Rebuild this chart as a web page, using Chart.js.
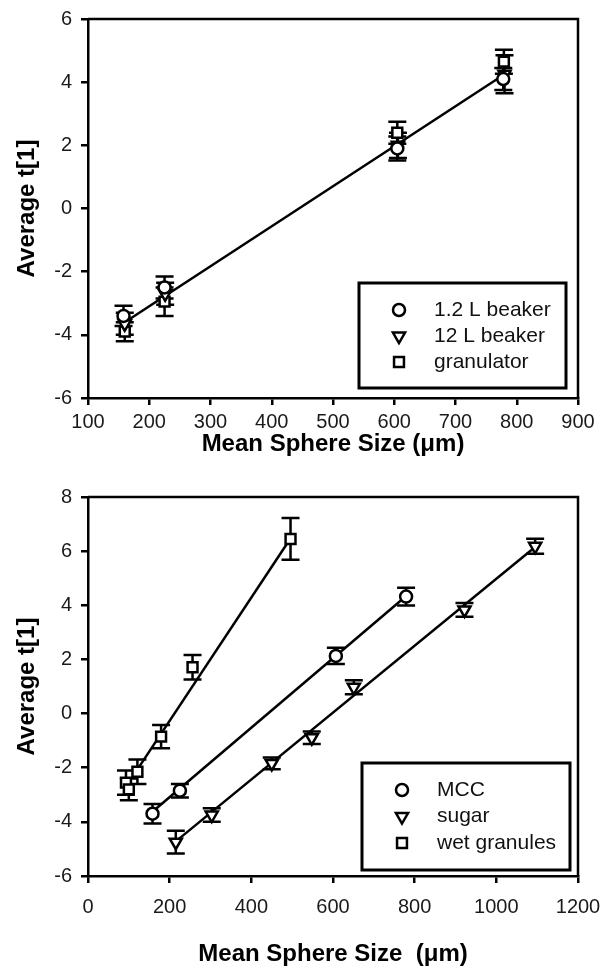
<!DOCTYPE html>
<html>
<head>
<meta charset="utf-8">
<script src="https://cdn.jsdelivr.net/npm/chart.js@4.4.1/dist/chart.umd.min.js"></script>
<style>
  html, body { margin: 0; padding: 0; background: #fff; }
  #wrap { position: relative; width: 602px; height: 967px; }
  canvas { position: absolute; left: 0; }
  #topChart { top: 0; }
  #bottomChart { top: 470px; }
</style>
</head>
<body>
<div id="wrap">
  <canvas id="topChart" width="602" height="470"></canvas>
  <canvas id="bottomChart" width="602" height="497"></canvas>
</div>
<script>
// top panel: three vessels
const topTicksX = [100, 200, 300, 400, 500, 600, 700, 800, 900];
const topTicksY = [-6, -4, -2, 0, 2, 4, 6];
const beakerSmallX = [158, 225, 605, 778];
const beakerSmallY = [-3.4, -2.5, 1.9, 4.1];
const beakerSmallErr = [0.32, 0.35, 0.38, 0.35];
const beakerLargeX = [160, 226, 606, 780];
const beakerLargeY = [-3.65, -2.7, 2.0, 4.25];
const beakerLargeErr = [0.35, 0.35, 0.4, 0.6];
const granulatorX = [160, 225, 605, 779];
const granulatorY = [-3.9, -2.95, 2.4, 4.65];
const granulatorErr = [0.3, 0.45, 0.35, 0.38];
const topFitX = [160, 780];
const topFitY = [-3.6, 4.25];

// bottom panel: three materials
const bottomTicksX = [0, 200, 400, 600, 800, 1000, 1200];
const bottomTicksY = [-6, -4, -2, 0, 2, 4, 6, 8];
const mccX = [158, 225, 607, 779];
const mccY = [-3.7, -2.85, 2.13, 4.32];
const mccErr = [0.36, 0.25, 0.3, 0.33];
const sugarX = [215, 303, 450, 548, 651, 922, 1095];
const sugarY = [-4.75, -3.75, -1.84, -0.89, 0.97, 3.83, 6.18];
const sugarErr = [0.42, 0.25, 0.22, 0.23, 0.26, 0.25, 0.28];
const wetX = [93, 100, 121, 179, 256, 496];
const wetY = [-2.55, -2.8, -2.15, -0.85, 1.71, 6.45];
const wetErr = [0.45, 0.4, 0.45, 0.43, 0.45, 0.77];
const mccFitX = [160, 780];
const mccFitY = [-3.6, 4.35];
const sugarFitX = [215, 1095];
const sugarFitY = [-4.72, 6.15];
const wetFitX = [115, 495];
const wetFitY = [-2.2, 6.45];

Chart.defaults.font.family = 'Arial, "Liberation Sans", Helvetica, sans-serif';
Chart.defaults.color = '#000';
Chart.defaults.animation = false;

const circle = { shape: 'circle', radius: 6, rotation: 0 };
const triangleDown = { shape: 'triangle', radius: 7, rotation: 180 };
const square = { shape: 'rect', radius: 7, rotation: 0 };

function pts(xs, ys) {
    return xs.map((x, i) => ({ x: x, y: ys[i] }));
}

function markerSet(label, xs, ys, errs, style) {
    return {
        label: label,
        data: pts(xs, ys),
        errorBars: errs,
        showLine: false,
        pointStyle: style.shape,
        rotation: style.rotation,
        pointRadius: style.radius,
        pointBorderWidth: 2.5,
        pointBorderColor: '#000',
        pointBackgroundColor: '#fff'
    };
}

function fitLine(xs, ys) {
    return {
        data: pts(xs, ys),
        showLine: true,
        borderColor: '#000',
        borderWidth: 2.5,
        pointRadius: 0,
        fill: false
    };
}

// error bars go under the markers
const errorBarPlugin = {
    id: 'errorBars',
    beforeDatasetsDraw(chart) {
        const ctx = chart.ctx;
        const xs = chart.scales.x, ys = chart.scales.y;
        ctx.save();
        ctx.strokeStyle = '#000';
        ctx.lineWidth = 2.5;
        chart.data.datasets.forEach(ds => {
            if (!ds.errorBars) return;
            ds.data.forEach((p, i) => {
                const e = ds.errorBars[i];
                const px = xs.getPixelForValue(p.x);
                const top = ys.getPixelForValue(p.y + e);
                const bot = ys.getPixelForValue(p.y - e);
                ctx.beginPath();
                ctx.moveTo(px, top); ctx.lineTo(px, bot);
                ctx.moveTo(px - 9, top); ctx.lineTo(px + 9, top);
                ctx.moveTo(px - 9, bot); ctx.lineTo(px + 9, bot);
                ctx.stroke();
            });
        });
        ctx.restore();
    }
};

const framePlugin = {
    id: 'frame',
    afterDatasetsDraw(chart) {
        const { ctx, chartArea: a } = chart;
        ctx.save();
        ctx.strokeStyle = '#000';
        ctx.lineWidth = 2.5;
        ctx.beginPath();
        ctx.moveTo(a.left, a.top);
        ctx.lineTo(a.right, a.top);
        ctx.lineTo(a.right, a.bottom);
        ctx.stroke();
        ctx.restore();
    }
};

function drawMarker(ctx, ds, x, y) {
    if (Chart.helpers && Chart.helpers.drawPoint) {
        Chart.helpers.drawPoint(ctx, {
            pointStyle: ds.pointStyle, rotation: ds.rotation, radius: ds.pointRadius, borderWidth: 2.5
        }, x, y);
        return;
    }
    const r = ds.pointRadius;
    ctx.beginPath();
    if (ds.pointStyle === 'circle') {
        ctx.arc(x, y, r, 0, Math.PI * 2);
    } else if (ds.pointStyle === 'rect') {
        const s = r * Math.SQRT1_2;
        ctx.rect(x - s, y - s, 2 * s, 2 * s);
    } else {
        ctx.moveTo(x, y + r);
        ctx.lineTo(x - r * 0.866, y - r / 2);
        ctx.lineTo(x + r * 0.866, y - r / 2);
        ctx.closePath();
    }
    ctx.fill();
    ctx.stroke();
}

// boxed legend inside the plot, lower right
const boxLegendPlugin = {
    id: 'boxLegend',
    afterDraw(chart, args, opts) {
        const { ctx, chartArea: a } = chart;
        const left = a.right - opts.marginRight - opts.width;
        const top = a.bottom - opts.marginBottom - opts.height;
        ctx.save();
        ctx.fillStyle = '#fff';
        ctx.fillRect(left, top, opts.width, opts.height);
        ctx.strokeStyle = '#000';
        ctx.lineWidth = 3;
        ctx.strokeRect(left, top, opts.width, opts.height);
        const items = chart.data.datasets.filter(ds => ds.label);
        items.forEach((ds, i) => {
            const y = top + opts.firstRow + i * opts.rowGap;
            ctx.fillStyle = '#fff';
            ctx.strokeStyle = '#000';
            ctx.lineWidth = 2.5;
            drawMarker(ctx, ds, left + 40, y);
            ctx.fillStyle = '#111';
            ctx.font = '21px Arial, "Liberation Sans", sans-serif';
            ctx.textBaseline = 'middle';
            ctx.textAlign = 'left';
            ctx.fillText(ds.label, left + 75, y);
        });
        ctx.restore();
    }
};

function axes(xr, xTicks, yr, yTicks, xTitle, g) {
    const grid = { drawOnChartArea: false, drawTicks: true, tickLength: 7, lineWidth: 2.5, tickWidth: 2.5, color: '#000', tickColor: '#000' };
    const border = { display: true, color: '#000', width: 2.5 };
    const tickFont = { size: 20 };
    const titleFont = { size: 24, weight: 'bold', lineHeight: 1 };
    return {
        x: {
            type: 'linear', min: xr[0], max: xr[1], grid: grid, border: border,
            afterBuildTicks: s => { s.ticks = xTicks.map(v => ({ value: v })); },
            afterFit: s => { s.height = g.xHeight; s.paddingLeft = 0; s.paddingRight = 0; },
            ticks: { font: tickFont, color: '#1a1a1a', padding: g.xPad, maxRotation: 0, autoSkip: false, callback: v => String(v) },
            title: { display: true, text: xTitle, font: titleFont, color: '#000', padding: { top: 0, bottom: g.xTitlePad } }
        },
        y: {
            type: 'linear', min: yr[0], max: yr[1], grid: grid, border: border,
            afterBuildTicks: s => { s.ticks = yTicks.map(v => ({ value: v })); },
            afterFit: s => { s.width = 88; s.paddingTop = 0; s.paddingBottom = 0; },
            ticks: { font: tickFont, color: '#1a1a1a', padding: 9, autoSkip: false, callback: v => String(v) },
            title: { display: true, text: 'Average t[1]', font: titleFont, color: '#000', padding: { top: 15, bottom: 0 } }
        }
    };
}

function makeChart(id, datasets, scales, padTop, legendBox) {
    return new Chart(document.getElementById(id).getContext('2d'), {
        type: 'scatter',
        data: { datasets: datasets },
        options: {
            responsive: false,
            animation: false,
            layout: { padding: { top: padTop, right: 24, left: 0, bottom: 0 } },
            scales: scales,
            plugins: {
                legend: { display: false },
                tooltip: { enabled: false },
                boxLegend: legendBox
            }
        },
        plugins: [errorBarPlugin, framePlugin, boxLegendPlugin]
    });
}

makeChart('topChart', [
    markerSet('1.2 L beaker', beakerSmallX, beakerSmallY, beakerSmallErr, circle),
    markerSet('12 L beaker', beakerLargeX, beakerLargeY, beakerLargeErr, triangleDown),
    markerSet('granulator', granulatorX, granulatorY, granulatorErr, square),
    fitLine(topFitX, topFitY)
], axes([100, 900], topTicksX, [-6, 6], topTicksY, 'Mean Sphere Size (\u03bcm)',
    { xHeight: 72, xPad: 5, xTitlePad: 14 }),
    19, { width: 207, height: 105, marginRight: 12, marginBottom: 10, firstRow: 27, rowGap: 26 });

makeChart('bottomChart', [
    markerSet('MCC', mccX, mccY, mccErr, circle),
    markerSet('sugar', sugarX, sugarY, sugarErr, triangleDown),
    markerSet('wet granules', wetX, wetY, wetErr, square),
    fitLine(mccFitX, mccFitY),
    fitLine(sugarFitX, sugarFitY),
    fitLine(wetFitX, wetFitY)
], axes([0, 1200], bottomTicksX, [-6, 8], bottomTicksY, 'Mean Sphere Size  (\u03bcm)',
    { xHeight: 91, xPad: 12, xTitlePad: 1 }),
    27, { width: 208, height: 107, marginRight: 8, marginBottom: 6, firstRow: 27, rowGap: 26.5 });
</script>
</body>
</html>
